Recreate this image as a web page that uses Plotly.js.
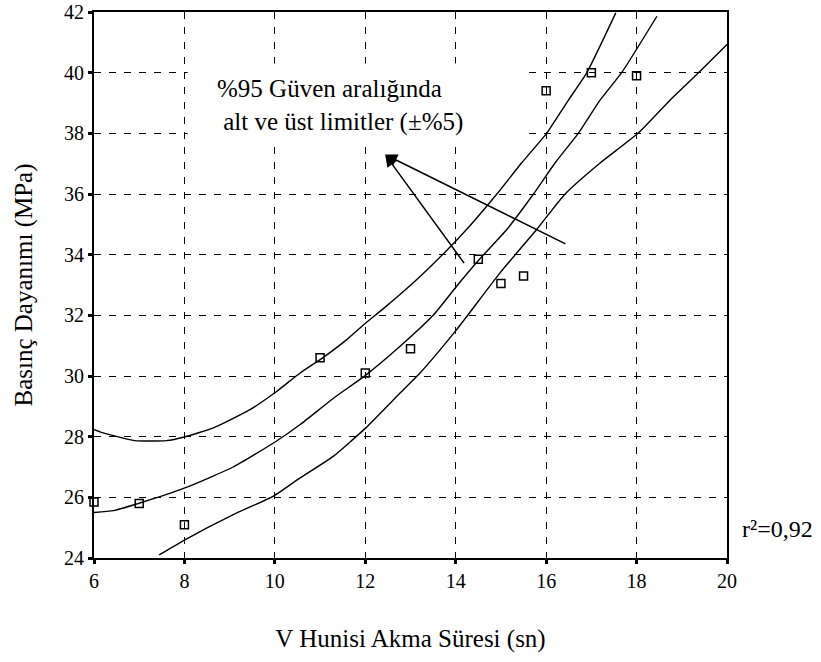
<!DOCTYPE html>
<html>
<head>
<meta charset="utf-8">
<script src="https://cdn.plot.ly/plotly-3.0.1.min.js"></script>
<style>html,body{margin:0;padding:0;background:#fff;}#chart{width:821px;height:662px;}</style>
</head>
<body>
<div id="chart"></div>
<script>
// Measured points (V funnel flow time vs compressive strength)
var pointX = [6, 7, 8, 11, 12, 13, 14.5, 15, 15.5, 16, 17, 18];
var pointY = [25.85, 25.8, 25.1, 30.6, 30.1, 30.9, 33.85, 33.05, 33.3, 39.4, 40.0, 39.9];

// Fitted curve
var midX = [6, 6.43, 7.03, 8.01, 9.08, 10.03, 10.56, 11.29, 12.01, 12.77, 13.5, 14.02, 14.52, 15.13, 15.72, 16.2, 16.71, 17.2, 17.67, 18.45];
var midY = [25.5, 25.56, 25.82, 26.31, 27.0, 27.85, 28.4, 29.26, 30.03, 30.98, 32.0, 32.96, 33.84, 34.83, 36.0, 37.03, 38.0, 39.11, 40.0, 41.86];

// Upper 95% limit
var upperX = [6, 6.13, 6.9, 7.6, 8.0, 8.64, 9.45, 10.03, 10.56, 11.04, 11.59, 12.01, 12.4, 13.14, 13.8, 14.3, 14.91, 15.46, 16.01, 16.5, 16.9, 17.54];
var upperY = [28.24, 28.16, 27.87, 27.87, 27.99, 28.29, 28.89, 29.48, 30.1, 30.58, 31.2, 31.75, 32.22, 33.18, 34.14, 34.93, 36.0, 37.03, 38.0, 39.11, 40.0, 41.97];

// Lower 95% limit
var lowerX = [7.44, 8.01, 9.08, 9.97, 10.56, 11.29, 12.01, 12.77, 13.21, 14.02, 14.98, 15.79, 16.42, 17.2, 18.03, 18.75, 19.37, 20];
var lowerY = [24.1, 24.6, 25.43, 26.04, 26.64, 27.35, 28.29, 29.44, 30.1, 31.53, 33.4, 34.83, 36.0, 37.03, 38.0, 39.11, 40.0, 40.93];

var xTicks = [6, 8, 10, 12, 14, 16, 18, 20];
var yTicks = [24, 26, 28, 30, 32, 34, 36, 38, 40, 42];

var FONT = 'Liberation Serif';
var lineStyle = {color: '#000', width: 1.4, shape: 'spline', smoothing: 0.5};

var traces = [
  {x: upperX, y: upperY, mode: 'lines', line: lineStyle, hoverinfo: 'skip', showlegend: false},
  {x: midX, y: midY, mode: 'lines', line: lineStyle, hoverinfo: 'skip', showlegend: false},
  {x: lowerX, y: lowerY, mode: 'lines', line: lineStyle, hoverinfo: 'skip', showlegend: false},
  {x: pointX, y: pointY, mode: 'markers', showlegend: false, cliponaxis: false,
   marker: {symbol: 'square-open', size: 8, color: '#000', line: {color: '#000', width: 1.5}}}
];

var axisCommon = {
  showline: true, linecolor: '#000', linewidth: 2, mirror: true,
  ticks: 'outside', ticklen: 4, tickwidth: 3, tickcolor: '#000',
  showgrid: true, gridcolor: '#000', gridwidth: 1, griddash: '7px,8px',
  zeroline: false, tickfont: {family: FONT, size: 20, color: '#000'}
};

var layout = {
  width: 821, height: 662,
  margin: {l: 94, r: 94, t: 12, b: 104},
  paper_bgcolor: '#fff', plot_bgcolor: '#fff',
  font: {family: FONT, color: '#000'},
  xaxis: Object.assign({}, axisCommon, {
    range: [6, 20], tickvals: xTicks,
    title: {text: 'V Hunisi Akma Süresi (sn)', font: {family: FONT, size: 25, color: '#000'}, standoff: 38}
  }),
  yaxis: Object.assign({}, axisCommon, {
    range: [24, 42], tickvals: yTicks,
    title: {text: 'Basınç Dayanımı (MPa)', font: {family: FONT, size: 25, color: '#000'}, standoff: 24}
  }),
  shapes: [
    {type: 'rect', xref: 'x', yref: 'y', layer: 'between',
     x0: 8.07, x1: 15.5, y0: 37.6, y1: 40.3,
     fillcolor: '#fff', line: {width: 0}}
  ],
  annotations: [
    {xref: 'x', yref: 'y', x: 8.68, y: 38.92, xanchor: 'left', yanchor: 'middle',
     align: 'left', showarrow: false,
     text: '%95 Güven aralığında<br>\u00a0alt ve üst limitler (±%5)',
     font: {family: FONT, size: 25, color: '#000'}},
    {xref: 'x', yref: 'y', axref: 'x', ayref: 'y', x: 12.44, y: 37.3, ax: 14.21, ay: 33.67,
     text: '', showarrow: true, arrowhead: 2, arrowsize: 1.6, arrowwidth: 1.5, arrowcolor: '#000', standoff: 0},
    {xref: 'x', yref: 'y', axref: 'x', ayref: 'y', x: 12.44, y: 37.3, ax: 16.46, ay: 34.33,
     text: '', showarrow: true, arrowhead: 2, arrowsize: 1.6, arrowwidth: 1.5, arrowcolor: '#000', standoff: 0},
    {xref: 'paper', yref: 'y', x: 1.02, y: 24.94, xanchor: 'left', yanchor: 'middle',
     showarrow: false, text: 'r²=0,92', font: {family: FONT, size: 24, color: '#000'}}
  ]
};

Plotly.newPlot('chart', traces, layout, {displayModeBar: false, staticPlot: true});
</script>
</body>
</html>
